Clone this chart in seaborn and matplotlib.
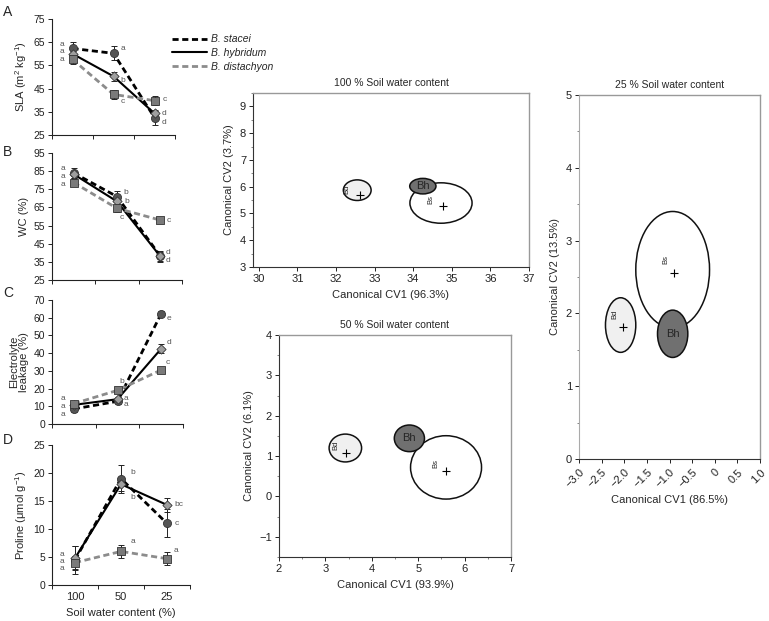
import numpy as np
import pandas as pd
import matplotlib
matplotlib.use("Agg")
import matplotlib.pyplot as plt
from matplotlib.patches import Ellipse
from matplotlib.lines import Line2D
from matplotlib.ticker import MultipleLocator
import seaborn as sns

sns.set_theme(style="ticks")
plt.rcParams['font.family'] = ['Liberation Sans', 'DejaVu Sans']
plt.rcParams['mathtext.fontset'] = 'custom'
plt.rcParams['mathtext.rm'] = 'Liberation Sans'
plt.rcParams['mathtext.it'] = 'Liberation Sans:italic'
plt.rcParams['axes.unicode_minus'] = True

# ---------------- data ----------------
treatments = ["100", "50", "25"]
species = ["B. stacei", "B. hybridum", "B. distachyon"]

sla_stacei = [62.3, 60.2, 32.5]
sla_hybridum = [60.0, 50.3, 34.3]
sla_distachyon = [57.6, 42.5, 39.8]
sla_err_stacei = [3.0, 3.0, 3.0]
sla_err_hybridum = [1.5, 2.0, 1.5]
sla_err_distachyon = [2.0, 1.8, 1.8]
sla_letters_stacei = ["a", "a", "d"]
sla_letters_hybridum = ["a", "b", "d"]
sla_letters_distachyon = ["a", "c", "c"]

wc_stacei = [84.0, 71.0, 38.2]
wc_hybridum = [83.3, 68.3, 38.0]
wc_distachyon = [78.7, 64.5, 58.0]
wc_err_stacei = [3.0, 3.0, 2.5]
wc_err_hybridum = [2.0, 2.0, 3.0]
wc_err_distachyon = [2.0, 2.0, 1.0]
wc_letters_stacei = ["a", "b", "d"]
wc_letters_hybridum = ["a", "b", "d"]
wc_letters_distachyon = ["a", "c", "c"]

el_stacei = [8.5, 12.8, 62.3]
el_hybridum = [10.8, 14.0, 42.5]
el_distachyon = [11.5, 19.0, 30.5]
el_err_stacei = [2.0, 1.5, 1.5]
el_err_hybridum = [1.5, 1.5, 2.5]
el_err_distachyon = [1.5, 1.2, 1.0]
el_letters_stacei = ["a", "a", "e"]
el_letters_hybridum = ["a", "a", "d"]
el_letters_distachyon = ["a", "b", "c"]

pro_stacei = [4.5, 19.0, 11.0]
pro_hybridum = [4.8, 18.0, 14.3]
pro_distachyon = [4.0, 6.0, 4.7]
pro_err_stacei = [2.5, 2.5, 2.5]
pro_err_hybridum = [2.2, 1.2, 1.2]
pro_err_distachyon = [1.2, 1.2, 1.2]
pro_letters_stacei = ["a", "b", "c"]
pro_letters_hybridum = ["a", "b", "bc"]
pro_letters_distachyon = ["a", "a", "a"]

# CVA groups: Bd, Bh, Bs
cva_groups = ["Bd", "Bh", "Bs"]
cva100_cx = [32.55, 34.25, 34.72]
cva100_cy = [5.87, 6.02, 5.39]
cva100_w = [0.72, 0.68, 1.61]
cva100_h = [0.77, 0.58, 1.51]
cva100_mx = [32.61, 34.25, 34.77]
cva100_my = [5.69, 6.02, 5.28]

cva50_cx = [3.43, 4.81, 5.60]
cva50_cy = [1.20, 1.44, 0.72]
cva50_w = [0.70, 0.65, 1.53]
cva50_h = [0.69, 0.66, 1.57]
cva50_mx = [3.44, 4.81, 5.60]
cva50_my = [1.08, 1.44, 0.63]

cva25_cx = [-2.08, -0.93, -0.93]
cva25_cy = [1.84, 1.72, 2.60]
cva25_w = [0.67, 0.67, 1.63]
cva25_h = [0.75, 0.65, 1.60]
cva25_mx = [-2.03, -0.93, -0.91]
cva25_my = [1.81, 1.72, 2.56]

cva25_xticklabels = ["\u22123.0", "\u22122.5", "\u22122.0", "\u22121.5", "\u22121.0", "\u22120.5", "0", "0.5", "1.0"]

# ---------------- styles ----------------
W, H = 769, 621
fig = plt.figure(figsize=(W / 100, H / 100), dpi=100)

def axes_px(l, t, r, b):
    return fig.add_axes([l / W, 1 - b / H, (r - l) / W, (b - t) / H])

line_col = {"B. stacei": "black", "B. hybridum": "black", "B. distachyon": "#8c8c8c"}
line_lw = {"B. stacei": 2.0, "B. hybridum": 1.5, "B. distachyon": 2.0}
dash_map = {"B. stacei": (2.2, 1.3), "B. hybridum": "", "B. distachyon": (2.2, 1.3)}
mark_map = {"B. stacei": "o", "B. hybridum": "D", "B. distachyon": "s"}
mfc_map = {"B. stacei": "#555555", "B. hybridum": "#9e9e9e", "B. distachyon": "#7a7a7a"}
msize = {"B. stacei": 34, "B. hybridum": 22, "B. distachyon": 34}

FS = 7.5
letter_color = "#555555"

def style_line_ax(ax, ylim, ystep):
    ax.set_xlim(0, 3)
    ax.set_ylim(*ylim)
    ax.set_yticks(np.arange(ylim[0], ylim[1] + 0.01, ystep))
    ax.set_xticks([0, 1, 2, 3])
    ax.set_xticklabels([])
    for s in ["top", "right"]:
        ax.spines[s].set_visible(False)
    for s in ["left", "bottom"]:
        ax.spines[s].set_linewidth(0.8)
        ax.spines[s].set_color("#222222")
    ax.tick_params(axis="both", direction="out", length=3, width=0.7, labelsize=FS, pad=2, colors="#222222")
    ax.set_xlabel("")

def draw_panel(ax, vals, errs, letters, offsets):
    pos = np.arange(len(treatments)) + 0.5
    rows = []
    for sp, v in zip(species, vals):
        for p, t, y in zip(pos, treatments, v):
            rows.append({"pos": p, "treatment": t, "species": sp, "value": y})
    df = pd.DataFrame(rows)
    for sp, e in zip(species, errs):
        sub = df[df.species == sp]
        ax.errorbar(sub["pos"], sub["value"], yerr=e, fmt="none", ecolor="#222222",
                    elinewidth=0.7, capsize=2.5, capthick=0.7, zorder=2)
    sns.lineplot(data=df, x="pos", y="value", hue="species", style="species",
                 palette=line_col, dashes=dash_map, size="species", sizes=line_lw,
                 legend=False, ax=ax, zorder=3)
    for sp in species:
        sub = df[df.species == sp]
        ax.scatter(sub["pos"], sub["value"], marker=mark_map[sp], s=msize[sp],
                   facecolor=mfc_map[sp], edgecolor="#333333", linewidth=0.6, zorder=4)
    for sp, v, lab, off in zip(species, vals, letters, offsets):
        for p, y, l, o in zip(pos, v, lab, off):
            ax.annotate(l, (p, y), xytext=o, textcoords="offset pixels",
                        ha="center", va="center", fontsize=6, color=letter_color, zorder=5)

# ---------------- Panel A ----------------
axA = axes_px(52, 19, 175, 135)
draw_panel(axA, [sla_stacei, sla_hybridum, sla_distachyon],
           [sla_err_stacei, sla_err_hybridum, sla_err_distachyon],
           [sla_letters_stacei, sla_letters_hybridum, sla_letters_distachyon],
           [[(-11, 4), (9, 5), (10, -5)], [(-11, 2), (9, -4), (10, 0)], [(-11, 0), (9, -7), (10, 1)]])
style_line_ax(axA, (25, 75), 10)
axA.set_ylabel("SLA (m$^2$ kg$^{-1}$)", fontsize=FS + 0.5, labelpad=3)

# ---------------- Panel B ----------------
axB = axes_px(52, 153, 182, 280)
draw_panel(axB, [wc_stacei, wc_hybridum, wc_distachyon],
           [wc_err_stacei, wc_err_hybridum, wc_err_distachyon],
           [wc_letters_stacei, wc_letters_hybridum, wc_letters_distachyon],
           [[(-11, 4), (9, 4), (8, 4)], [(-11, -2), (10, 0), (8, -4)], [(-11, -2), (5, -9), (8, 0)]])
style_line_ax(axB, (25, 95), 10)
axB.set_ylabel("WC (%)", fontsize=FS + 0.5, labelpad=3)

# ---------------- Panel C ----------------
axC = axes_px(52, 300, 183, 424)
draw_panel(axC, [el_stacei, el_hybridum, el_distachyon],
           [el_err_stacei, el_err_hybridum, el_err_distachyon],
           [el_letters_stacei, el_letters_hybridum, el_letters_distachyon],
           [[(-11, -6), (8, -3), (8, -5)], [(-11, -2), (8, 1), (8, 6)], [(-11, 5), (4, 9), (7, 7)]])
style_line_ax(axC, (0, 70), 10)
axC.set_ylabel("Electrolyte\nleakage (%)", fontsize=FS + 0.5, labelpad=3, linespacing=1.0)

# ---------------- Panel D ----------------
axD = axes_px(52, 445, 190, 585)
draw_panel(axD, [pro_stacei, pro_hybridum, pro_distachyon],
           [pro_err_stacei, pro_err_hybridum, pro_err_distachyon],
           [pro_letters_stacei, pro_letters_hybridum, pro_letters_distachyon],
           [[(-13, -2), (12, 6), (10, 0)], [(-13, 4), (12, -13), (12, 0)], [(-13, -6), (12, 10), (9, 8)]])
style_line_ax(axD, (0, 25), 5)
axD.set_xticks(np.arange(len(treatments)) + 0.5, minor=True)
axD.set_xticklabels(treatments, minor=True, fontsize=FS + 0.5)
axD.tick_params(axis="x", which="minor", length=0, pad=5)
axD.set_ylabel("Proline (\u03bcmol g$^{-1}$)", fontsize=FS + 0.5, labelpad=3)
axD.set_xlabel("Soil water content (%)", fontsize=FS + 0.5, labelpad=4)

for ax, letter, y in [(axA, "A", 12), (axB, "B", 152), (axC, "C", 293), (axD, "D", 440)]:
    fig.text(3 / W, 1 - y / H, letter, fontsize=10, ha="left", va="center")

# legend
handles = [Line2D([0], [0], color=line_col[sp], lw=line_lw[sp],
                  dashes=dash_map[sp] if dash_map[sp] else (None, None)) for sp in species]
for h, sp in zip(handles, species):
    if dash_map[sp] == "":
        h.set_linestyle("-")
fig.legend(handles, species, loc="upper left", bbox_to_anchor=(163 / W, 1 - 25 / H),
           frameon=False, fontsize=FS, handlelength=3.3, handletextpad=0.4,
           labelspacing=0.35, prop={"style": "italic", "size": FS})

# ---------------- CVA panels ----------------
face_map = {"Bd": "#f0f0f0", "Bh": "#707070", "Bs": "white"}

def draw_cva(ax, cx, cy, w, h, mx, my, xlim, ylim, title, xlabel, ylabel):
    order = [0, 2, 1]  # Bd, Bs, then Bh on top
    for i in order:
        g = cva_groups[i]
        e = Ellipse((cx[i], cy[i]), w[i], h[i], facecolor=face_map[g],
                    edgecolor="#111111", linewidth=1.1, zorder=2 + order.index(i))
        ax.add_patch(e)
    sns.scatterplot(x=[mx[0], mx[2]], y=[my[0], my[2]], marker="+", s=40,
                    color="black", linewidth=0.8, ax=ax, zorder=6, legend=False)
    xr = xlim[1] - xlim[0]
    yr = ylim[1] - ylim[0]
    for i in [0, 2]:
        ax.text(mx[i] - 0.045 * xr, my[i] + 0.035 * yr, cva_groups[i], rotation=90,
                fontsize=5.5, ha="center", va="center", zorder=7)
    ax.text(cx[1], cy[1], "Bh", fontsize=8, ha="center", va="center", zorder=7)
    ax.set_xlim(*xlim)
    ax.set_ylim(*ylim)
    ax.set_title(title, fontsize=FS, pad=5)
    ax.set_xlabel(xlabel, fontsize=FS + 0.5, labelpad=4)
    ax.set_ylabel(ylabel, fontsize=FS + 0.5, labelpad=4)
    for s in ["top", "right"]:
        ax.spines[s].set_color("#999999")
        ax.spines[s].set_linewidth(1.0)
    for s in ["left", "bottom"]:
        ax.spines[s].set_color("#333333")
        ax.spines[s].set_linewidth(0.8)
    ax.tick_params(axis="both", which="major", direction="out", length=3, width=0.7,
                   labelsize=FS + 0.5, pad=2, colors="#222222")
    ax.tick_params(axis="both", which="minor", direction="out", length=1.5, width=0.5,
                   colors="#555555")

ax100 = axes_px(253, 93, 529, 267)
draw_cva(ax100, cva100_cx, cva100_cy, cva100_w, cva100_h, cva100_mx, cva100_my,
         (29.85, 37), (3, 9.5), "100 % Soil water content",
         "Canonical CV1 (96.3%)", "Canonical CV2 (3.7%)")
ax100.set_xticks(np.arange(30, 38, 1))
ax100.set_yticks(np.arange(3, 10, 1))
ax100.yaxis.set_minor_locator(MultipleLocator(0.5))

ax50 = axes_px(279, 335, 511, 557)
draw_cva(ax50, cva50_cx, cva50_cy, cva50_w, cva50_h, cva50_mx, cva50_my,
         (2, 7), (-1.5, 4), "50 % Soil water content",
         "Canonical CV1 (93.9%)", "Canonical CV2 (6.1%)")
ax50.set_xticks(np.arange(2, 8, 1))
ax50.set_yticks(np.arange(-1, 5, 1))
ax50.xaxis.set_minor_locator(MultipleLocator(0.5))
ax50.yaxis.set_minor_locator(MultipleLocator(0.5))

ax25 = axes_px(579, 95, 760, 459)
draw_cva(ax25, cva25_cx, cva25_cy, cva25_w, cva25_h, cva25_mx, cva25_my,
         (-3, 1), (0, 5), "25 % Soil water content",
         "Canonical CV1 (86.5%)", "Canonical CV2 (13.5%)")
ax25.set_xticks(np.arange(-3, 1.01, 0.5))
ax25.set_xticklabels(cva25_xticklabels, rotation=45, ha="right", rotation_mode="anchor")
ax25.set_yticks(np.arange(0, 6, 1))
ax25.yaxis.set_minor_locator(MultipleLocator(0.5))
ax25.spines["left"].set_color("#aaaaaa")
ax25.tick_params(axis="x", pad=3)

fig.savefig("out.png", dpi=100)
